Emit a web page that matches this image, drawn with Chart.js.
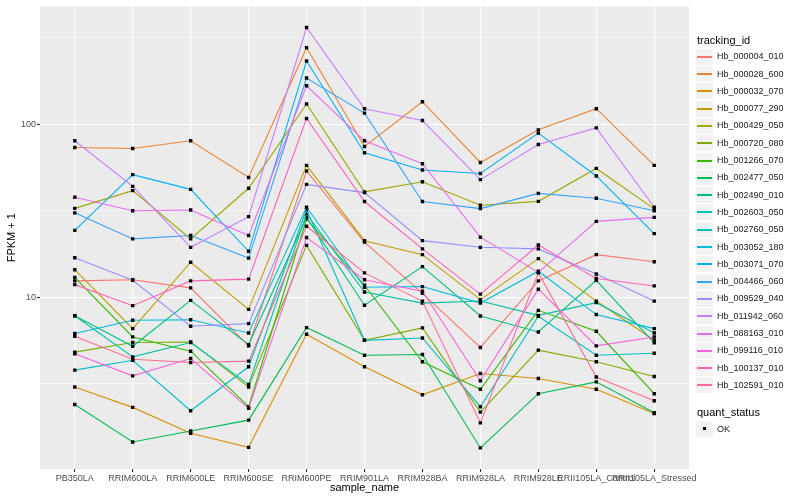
<!DOCTYPE html>
<html>
<head>
<meta charset="utf-8">
<script src="https://cdn.jsdelivr.net/npm/chart.js@4/dist/chart.umd.min.js"></script>
<style>
  body { margin: 0; background: #fff; font-family: "Liberation Sans", Arial, sans-serif; }
  #wrap { position: relative; width: 800px; height: 500px; }
  #chart { position: absolute; left: 0; top: 0; }
  .lg-title { position: absolute; left: 697px; font-size: 11px; color: #000; line-height: 13px; }
  .lg-key { position: absolute; left: 696px; width: 17px; height: 16px; background: #F2F2F2; }
  .lg-line { position: absolute; left: 1px; right: 1px; top: 7px; height: 2px; }
  .lg-dot { position: absolute; left: 7px; top: 6px; width: 3px; height: 3px; background: #000; }
  .lg-text { position: absolute; left: 717px; font-size: 9px; color: #1a1a1a; line-height: 11px; }
</style>
</head>
<body>
<div id="wrap">
  <canvas id="chart" width="800" height="500"></canvas>
  <div id="legend"></div>
</div>
<script>
const categories = ['PB350LA', 'RRIM600LA', 'RRIM600LE', 'RRIM600SE', 'RRIM600PE', 'RRIM901LA',
  'RRIM928BA', 'RRIM928LA', 'RRIM928LE', 'RRII105LA_Control', 'RRII105LA_Stressed'];

const trackingIds = ['Hb_000004_010', 'Hb_000028_600', 'Hb_000032_070', 'Hb_000077_290', 'Hb_000429_050',
  'Hb_000720_080', 'Hb_001266_070', 'Hb_002477_050', 'Hb_002490_010', 'Hb_002603_050',
  'Hb_002760_050', 'Hb_003052_180', 'Hb_003071_070', 'Hb_004466_060', 'Hb_009529_040',
  'Hb_011942_060', 'Hb_088163_010', 'Hb_099116_010', 'Hb_100137_010', 'Hb_102591_010'];

const seriesColors = ['#F8766D', '#EA8331', '#D89000', '#C09B00', '#A3A500', '#7CAE00', '#39B600',
  '#00BB4E', '#00BF7D', '#00C1A3', '#00BFC4', '#00BAE0', '#00B0F6', '#35A2FF', '#9590FF',
  '#C77CFF', '#E76BF3', '#FA62DB', '#FF62BC', '#FF6C91'];

// FPKM + 1 per sample
const hb000004_010 = [12.4, 12.6, 11.3, 5.22, 53.6, 20.8, 10.5, 5.11, 12.4, 17.6, 16.0];
const hb000028_600 = [73.4, 72.4, 80.2, 49.2, 277, 74.4, 135, 60.1, 92.8, 123, 57.8];
const hb000032_070 = [3.02, 2.30, 1.63, 1.35, 6.09, 3.95, 2.72, 3.61, 3.38, 2.93, 2.12];
const hb000077_290 = [14.4, 6.57, 15.9, 8.49, 57.8, 21.2, 17.6, 9.66, 16.7, 9.48, 5.62];
const hb000429_050 = [32.6, 41.3, 21.7, 42.6, 131, 40.6, 46.5, 34.0, 35.8, 55.5, 32.4];
const hb000720_080 = [4.80, 5.46, 5.50, 3.02, 19.9, 5.62, 6.63, 2.16, 4.93, 4.22, 3.47];
const hb001266_070 = [13.0, 5.88, 4.86, 2.32, 28.3, 11.7, 4.22, 2.93, 8.38, 6.34, 2.76];
const hb002477_050 = [2.39, 1.45, 1.68, 1.94, 6.66, 4.61, 4.65, 1.34, 2.76, 3.23, 2.14];
const hb002490_010 = [7.79, 5.19, 9.57, 5.31, 28.9, 8.96, 15.0, 7.77, 6.28, 12.5, 5.43];
const hb002603_050 = [7.79, 4.51, 5.46, 3.12, 30.3, 10.7, 9.23, 9.48, 7.84, 9.28, 6.20];
const hb002760_050 = [3.78, 4.31, 2.20, 3.95, 32.1, 5.62, 5.80, 2.32, 7.74, 4.61, 4.73];
const hb003052_180 = [6.15, 7.34, 7.39, 6.20, 33.1, 11.4, 11.5, 9.23, 14.1, 7.92, 6.57];
const hb003071_070 = [24.3, 51.1, 42.0, 18.4, 232, 68.4, 54.4, 51.9, 88.8, 50.2, 23.3];
const hb004466_060 = [30.7, 21.7, 22.7, 16.8, 185, 116, 35.7, 32.5, 39.8, 37.3, 31.6];
const hb009529_040 = [16.9, 12.5, 6.78, 7.02, 44.9, 40.2, 21.2, 19.4, 19.0, 13.6, 9.48];
const hb011942_060 = [80.2, 43.7, 19.4, 29.2, 363, 123, 105, 47.8, 76.4, 95.3, 33.1];
const hb088163_010 = [37.8, 31.6, 31.9, 22.7, 167, 80.2, 59.1, 22.2, 13.9, 27.4, 28.9];
const hb099116_010 = [4.70, 3.50, 4.41, 2.27, 22.1, 12.6, 10.8, 3.28, 11.1, 5.22, 5.88];
const hb100137_010 = [11.8, 8.92, 12.4, 12.7, 108, 35.7, 19.0, 10.4, 20.0, 12.8, 11.6];
const hb102591_010 = [5.93, 4.37, 4.18, 4.26, 25.7, 13.8, 9.48, 1.87, 13.8, 3.45, 2.51];

const seriesValues = [hb000004_010, hb000028_600, hb000032_070, hb000077_290, hb000429_050,
  hb000720_080, hb001266_070, hb002477_050, hb002490_010, hb002603_050, hb002760_050,
  hb003052_180, hb003071_070, hb004466_060, hb009529_040, hb011942_060, hb088163_010,
  hb099116_010, hb100137_010, hb102591_010];

const yBreaks = [3.1623, 10, 31.623, 100, 316.23];
const yLabelled = [10, 100];

const isMajor = v => yLabelled.some(m => Math.abs(m - v) < 1e-6);

const panelBg = {
  id: 'panelBg',
  beforeDraw(chart) {
    const { ctx, chartArea: a } = chart;
    ctx.save();
    ctx.fillStyle = '#EBEBEB';
    ctx.fillRect(a.left, a.top, a.right - a.left, a.bottom - a.top);
    ctx.restore();
  }
};

const datasets = seriesValues.map((vals, i) => ({
  label: trackingIds[i],
  data: vals.map((v, j) => ({ x: j, y: v })),
  borderColor: seriesColors[i],
  borderWidth: 1.1,
  pointStyle: 'rect',
  pointRadius: 2.4,
  pointBorderWidth: 0,
  pointBackgroundColor: '#000',
  tension: 0,
  order: -i
}));

new Chart(document.getElementById('chart'), {
  type: 'line',
  data: { datasets: datasets },
  plugins: [panelBg],
  options: {
    responsive: false,
    animation: false,
    events: [],
    layout: { padding: { left: 0, right: 111, top: 5, bottom: 0 } },
    plugins: { legend: { display: false }, tooltip: { enabled: false } },
    scales: {
      x: {
        type: 'linear',
        min: -0.6,
        max: 10.6,
        afterBuildTicks: s => { s.ticks = categories.map((c, i) => ({ value: i })); },
        afterFit: s => { s.height = 31; },
        ticks: {
          autoSkip: false,
          maxRotation: 0,
          minRotation: 0,
          padding: 1,
          color: '#4D4D4D',
          font: { family: 'Liberation Sans', size: 9 },
          callback: v => categories[v]
        },
        grid: { color: '#FFFFFF', lineWidth: 1.1, tickLength: 3, tickColor: '#333333' },
        border: { display: false },
        title: {
          display: true, text: 'sample_name', color: '#000',
          font: { family: 'Liberation Sans', size: 11 },
          padding: { top: 0, bottom: 5 }
        }
      },
      y: {
        type: 'logarithmic',
        min: 1.012,
        max: 480.6,
        afterBuildTicks: s => { s.ticks = yBreaks.map(v => ({ value: v })); },
        afterFit: s => { s.width = 40; },
        ticks: {
          padding: 1,
          color: '#4D4D4D',
          font: { family: 'Liberation Sans', size: 9 },
          callback: v => isMajor(v) ? String(Math.round(v)) : ''
        },
        grid: {
          color: '#FFFFFF',
          lineWidth: ctx => isMajor(ctx.tick.value) ? 1.1 : 0.55,
          tickLength: 3,
          tickColor: ctx => isMajor(ctx.tick.value) ? '#333333' : 'rgba(0,0,0,0)'
        },
        border: { display: false },
        title: {
          display: true, text: 'FPKM + 1', color: '#000',
          font: { family: 'Liberation Sans', size: 11 },
          padding: { top: 5, bottom: 0 }
        }
      }
    }
  }
});

// legend, built from the same arrays
const legend = document.getElementById('legend');
function addTitle(text, cy) {
  const t = document.createElement('div');
  t.className = 'lg-title';
  t.style.top = Math.round(cy - 6.5) + 'px';
  t.textContent = text;
  legend.appendChild(t);
}
function addItem(text, cy, color) {
  const k = document.createElement('div');
  k.className = 'lg-key';
  k.style.top = Math.round(cy - 8) + 'px';
  const mark = document.createElement('div');
  if (color) { mark.className = 'lg-line'; mark.style.background = color; }
  else { mark.className = 'lg-dot'; }
  k.appendChild(mark);
  legend.appendChild(k);
  const t = document.createElement('div');
  t.className = 'lg-text';
  t.style.top = Math.round(cy - 5.5) + 'px';
  t.textContent = text;
  legend.appendChild(t);
}
addTitle('tracking_id', 40.7);
trackingIds.forEach((id, i) => addItem(id, 56.7 + i * 17.3, seriesColors[i]));
addTitle('quant_status', 412.3);
addItem('OK', 429.3, null);
</script>
</body>
</html>
